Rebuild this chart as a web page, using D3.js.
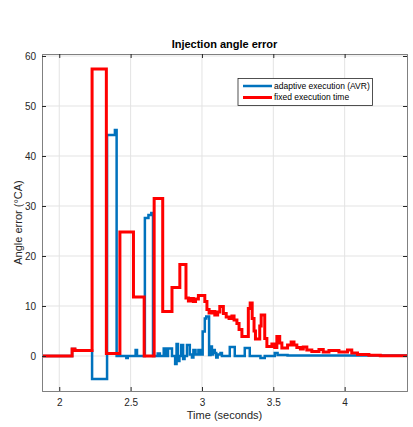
<!DOCTYPE html>
<html>
<head>
<meta charset="utf-8">
<script src="https://cdn.jsdelivr.net/npm/d3@7"></script>
<style>
  body { margin: 0; background: #fff; }
  svg { display: block; font-family: "Liberation Sans", Arial, sans-serif; }
</style>
</head>
<body>
<div id="chart"></div>
<script>
// step series: [start time (s), angle error (°CA)]
const adaptive = [
  [1.88, 0], [2.09, 1.4], [2.11, 1.1], [2.23, -4.6], [2.335, 44.2], [2.39, 45.2],
  [2.402, 0], [2.47, -0.4], [2.48, 0], [2.535, 1.2], [2.545, 0],
  [2.6, 27.6], [2.625, 28.2], [2.645, 28.6], [2.657, 0],
  [2.69, 0.5], [2.705, 0], [2.732, 1.5], [2.745, 0], [2.762, 1.5], [2.79, 0],
  [2.812, -1.6], [2.822, 2.4], [2.832, -1.0], [2.842, 0], [2.855, 2.2], [2.868, -0.6],
  [2.878, 0], [2.895, 2.2], [2.915, 0.3], [2.93, -0.3], [2.94, 1.2], [2.955, 0.3],
  [2.975, 1.2], [2.99, 0.3], [3.005, 4.9], [3.02, 7.5], [3.03, 7.9], [3.05, 0.2],
  [3.06, 1.9], [3.07, 0.3], [3.078, 1.2], [3.09, 0.6], [3.1, -0.3], [3.11, 0.3],
  [3.13, 0.6], [3.14, 0], [3.195, 1.8], [3.23, 0], [3.3, 1.6], [3.335, 0],
  [3.41, -0.4], [3.44, 0], [3.51, 0.6], [3.53, 0.2], [3.6, 0.1]
];
const fixed = [
  [1.88, 0], [2.09, 1.4], [2.11, 1.1], [2.23, 57.4], [2.33, 0.5], [2.425, 24.8],
  [2.52, 11.8], [2.595, 0], [2.665, 31.5], [2.725, 8.9], [2.79, 13.7], [2.845, 18.3],
  [2.888, 11.6], [2.905, 11.0], [2.925, 11.5], [2.94, 10.9], [2.955, 11.4], [2.975, 12.1],
  [3.02, 10.9], [3.035, 9.3], [3.05, 8.6], [3.07, 8.9], [3.09, 8.2], [3.11, 8.8],
  [3.125, 9.9], [3.15, 8.5], [3.17, 7.8], [3.19, 7.5], [3.21, 8.0], [3.225, 7.2],
  [3.245, 6.5], [3.26, 5.3], [3.28, 3.9], [3.325, 9.5], [3.338, 10.6], [3.352, 7.5],
  [3.365, 5.0], [3.375, 3.4], [3.405, 6.0], [3.415, 8.2], [3.44, 3.5], [3.455, 1.9],
  [3.49, 2.4], [3.51, 1.7], [3.525, 3.9], [3.545, 2.6], [3.56, 1.6], [3.6, 2.2],
  [3.625, 2.8], [3.645, 2.2], [3.665, 1.7], [3.69, 1.4], [3.71, 1.8], [3.735, 1.2],
  [3.77, 0.9], [3.82, 1.3], [3.85, 0.8], [3.89, 1.1], [3.96, 0.8], [4.02, 1.2],
  [4.05, 0.6], [4.09, 0.3], [4.17, 0.15], [4.25, 0.05]
];
const xTicks = [2, 2.5, 3, 3.5, 4];
const yTicks = [0, 10, 20, 30, 40, 50, 60];
const seriesNames = ["adaptive execution (AVR)", "fixed execution time"];
const seriesColors = ["#0072BD", "#FF0000"];

const width = 413, height = 427;
const margin = {left: 42, right: 6, top: 54, bottom: 36};
const xMax = 4.437;

const svg = d3.select("#chart").append("svg")
  .attr("width", width).attr("height", height);

const x = d3.scaleLinear().domain([1.879, xMax]).range([margin.left, width - margin.right]);
const y = d3.scaleLinear().domain([-7, 60.4]).range([height - margin.bottom, margin.top]);

const x0 = x.range()[0], x1 = x.range()[1], y0 = y.range()[0], y1 = y.range()[1];

// grid
svg.append("g").selectAll("line").data(xTicks).join("line")
  .attr("x1", d => x(d)).attr("x2", d => x(d)).attr("y1", y1).attr("y2", y0)
  .attr("stroke", "#e3e3e3").attr("stroke-width", 1);
svg.append("g").selectAll("line").data(yTicks).join("line")
  .attr("y1", d => y(d)).attr("y2", d => y(d)).attr("x1", x0).attr("x2", x1)
  .attr("stroke", "#e3e3e3").attr("stroke-width", 1);

// lines
const line = d3.line().x(d => x(d[0])).y(d => y(d[1])).curve(d3.curveStepAfter);
[adaptive, fixed].forEach((s, i) => {
  const pts = s.concat([[xMax, s[s.length - 1][1]]]);
  svg.append("path").datum(pts)
    .attr("d", line)
    .attr("fill", "none")
    .attr("stroke", seriesColors[i])
    .attr("stroke-width", i === 0 ? 2.5 : 3)
    .attr("stroke-linejoin", "miter");
});

// axes (ticks inward, box on)
const axisColor = "#262626";
const tl = 4;
svg.append("g").attr("transform", `translate(0,${y0})`)
  .call(d3.axisBottom(x).tickValues(xTicks).tickSize(-tl).tickPadding(8).tickFormat(d3.format("")));
svg.append("g").attr("transform", `translate(0,${y1})`)
  .call(d3.axisTop(x).tickValues(xTicks).tickSize(-tl).tickFormat(""));
svg.append("g").attr("transform", `translate(${x0},0)`)
  .call(d3.axisLeft(y).tickValues(yTicks).tickSize(-tl).tickPadding(6));
svg.append("g").attr("transform", `translate(${x1},0)`)
  .call(d3.axisRight(y).tickValues(yTicks).tickSize(-tl).tickFormat(""));
svg.selectAll(".domain").attr("stroke", "#808080");
svg.selectAll(".tick line").attr("stroke", axisColor);
svg.selectAll(".tick text").attr("fill", axisColor).style("font-size", "10px");

// titles
svg.append("text").attr("x", (x0 + x1) / 2).attr("y", 48)
  .attr("text-anchor", "middle").style("font-size", "11px").style("font-weight", "bold")
  .attr("fill", "#000").text("Injection angle error");
svg.append("text").attr("x", (x0 + x1) / 2).attr("y", 419)
  .attr("text-anchor", "middle").style("font-size", "11px")
  .attr("fill", axisColor).text("Time (seconds)");
svg.append("text").attr("transform", `translate(22,${(y0 + y1) / 2}) rotate(-90)`)
  .attr("text-anchor", "middle").style("font-size", "11px")
  .attr("fill", axisColor).text("Angle error (°CA)");

// legend
const lg = svg.append("g").attr("transform", "translate(238,78.5)");
lg.append("rect").attr("width", 134.5).attr("height", 27)
  .attr("fill", "#fff").attr("stroke", "#262626").attr("stroke-width", 0.8);
seriesNames.forEach((n, i) => {
  const yy = 7.5 + i * 11.5;
  lg.append("line").attr("x1", 5).attr("x2", 34).attr("y1", yy).attr("y2", yy)
    .attr("stroke", seriesColors[i]).attr("stroke-width", i === 0 ? 2.5 : 3);
  lg.append("text").attr("x", 36).attr("y", yy).attr("dy", "0.35em")
    .style("font-size", "8.5px").attr("fill", "#000").text(n);
});
</script>
</body>
</html>
